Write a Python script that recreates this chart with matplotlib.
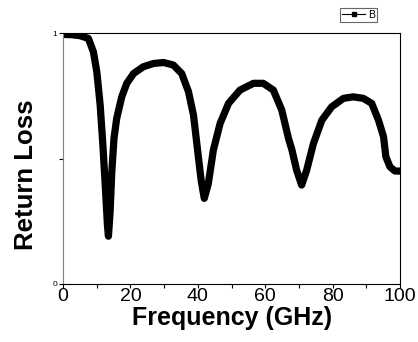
import matplotlib
matplotlib.use("Agg")
import matplotlib.pyplot as plt
from matplotlib.ticker import MultipleLocator
from matplotlib.lines import Line2D

freq = [0, 2.5, 5, 7.5, 9.0, 10.0, 11.0, 11.8, 12.5, 13.15, 13.45, 13.95, 14.45, 15.1, 15.9,
        17.4, 18.9, 20.9, 23.8, 26.8, 29.8, 32.7, 35.2, 37.2, 38.7, 40.2, 41.0, 41.9, 43.1,
        44.6, 46.6, 49.1, 52.5, 56.5, 59.4, 62.4, 64.9, 66.9, 67.9, 69.3, 70.8, 72.3, 74.3,
        76.8, 79.7, 83.2, 86.1, 89.1, 91.6, 93.6, 95.1, 95.8, 97.0, 98.5, 100]
ret_loss = [0.995, 0.994, 0.99, 0.979, 0.925, 0.846, 0.713, 0.554, 0.394, 0.235, 0.19, 0.288,
            0.447, 0.58, 0.66, 0.746, 0.80, 0.839, 0.866, 0.879, 0.883, 0.873, 0.839, 0.767,
            0.673, 0.50, 0.41, 0.341, 0.40, 0.534, 0.64, 0.72, 0.773, 0.80, 0.80, 0.773,
            0.693, 0.58, 0.535, 0.454, 0.394, 0.454, 0.56, 0.653, 0.706, 0.74, 0.746, 0.74,
            0.72, 0.653, 0.587, 0.507, 0.467, 0.45, 0.45]
series_label = "B"
xticks = [0, 20, 40, 60, 80, 100]
yticks = [0, 0.5, 1]
ytick_labels = ["0", "", "1"]

plt.rcParams['font.family'] = ['Liberation Sans', 'DejaVu Sans']

fig = plt.figure(figsize=(4.18, 3.42), dpi=100)
ax = fig.add_axes([0.151, 0.170, 0.806, 0.733])
ax.plot(freq, ret_loss, color='black', lw=5.2, solid_joinstyle='round', solid_capstyle='butt')
ax.set_xlim(0, 100)
ax.set_ylim(0, 1)
ax.set_xticks(xticks)
ax.xaxis.set_minor_locator(MultipleLocator(10))
ax.set_yticks(yticks)
ax.set_yticklabels(ytick_labels)
ax.tick_params(axis='x', which='both', direction='out', length=3, width=0.8, labelsize=14, pad=0)
ax.tick_params(axis='y', which='both', direction='out', length=3, width=0.8, labelsize=6, pad=1)
ax.spines['left'].set_color('#808080')
for s in ['top', 'right', 'bottom']:
    ax.spines[s].set_color('black')
    ax.spines[s].set_linewidth(0.8)

ax.set_xlabel("Frequency (GHz)", fontsize=18, fontweight='bold')
ax.xaxis.set_label_coords(0.5, -0.09)
ax.set_ylabel("Return Loss", fontsize=18.5, fontweight='bold')
ax.yaxis.set_label_coords(-0.074, 0.434)

h = Line2D([0], [0], color='black', lw=0.8, marker='s', markersize=3)
leg = fig.legend([h], [series_label], loc='center', bbox_to_anchor=(358.5/418, 1-15/342),
                 fontsize=7.5, frameon=True, fancybox=False, edgecolor='#404040',
                 borderpad=0.15, handlelength=2.2, handletextpad=0.3, borderaxespad=0)
leg.get_frame().set_linewidth(0.8)

fig.savefig("out.png", dpi=100)
